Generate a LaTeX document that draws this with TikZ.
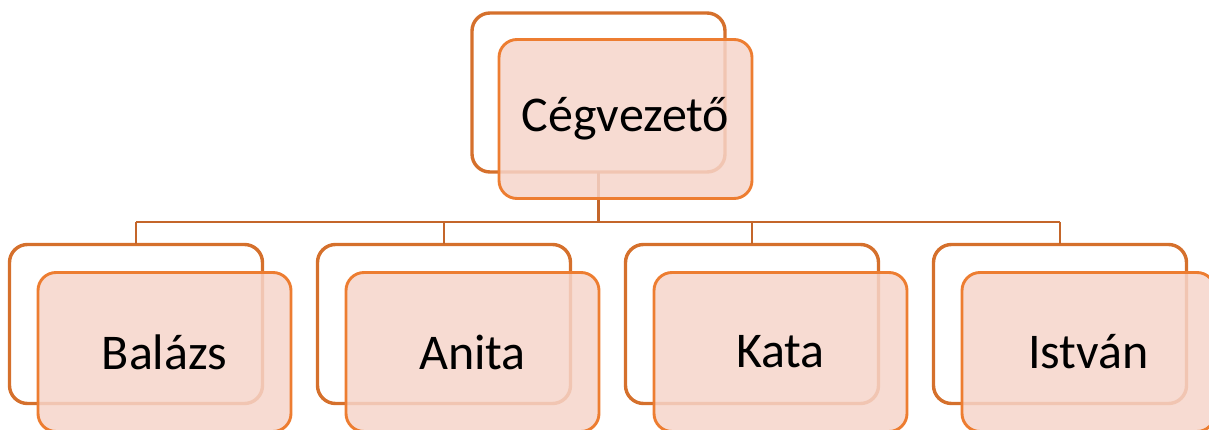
\documentclass[tikz,border=0pt]{standalone}
\usepackage{fontspec}
\setmainfont{Carlito}
\definecolor{backline}{HTML}{D5702C}
\definecolor{frontline}{HTML}{ED7D31}
\definecolor{frontfill}{HTML}{F6D5CA}
\definecolor{linkline}{HTML}{C4662A}
\tikzset{
  backcard/.style={draw=backline, line width=3.4pt, rounded corners=18pt,
    minimum width=253pt, minimum height=159pt, inner sep=0pt, outer sep=0pt},
  frontcard/.style={draw=frontline, line width=2.9pt, rounded corners=18pt,
    fill=frontfill, fill opacity=0.85, text opacity=1,
    minimum width=253pt, minimum height=159pt, inner sep=0pt, outer sep=0pt,
    font=\fontsize{50}{60}\selectfont},
  link/.style={draw=linkline, line width=2.9pt}
}
\begin{document}
\begin{tikzpicture}[x=1pt,y=-1pt]
\useasboundingbox (0,0) rectangle (1209,430);
% back cards
\node[backcard] (topback) at (598.5,92.5) {};
\node[backcard] (b1) at (136,324) {};
\node[backcard] (b2) at (444,324) {};
\node[backcard] (b3) at (752,324) {};
\node[backcard] (b4) at (1060,324) {};
% connectors
\coordinate (bus) at (598.5,222);
\draw[link] (topback.south) -- (topback.south |- bus);
\draw[link] (b1.north |- bus) -- (b4.north |- bus);
\foreach \b in {b1,b2,b3,b4}
  \draw[link] (\b.north |- bus) -- (\b.north);
% front cards with labels
\node[frontcard] (top) at (625.5,119) {Cégvezető};
\node[frontcard] (f1) at (164.5,352) {Balázs};
\node[frontcard] (f2) at (472.5,352) {Anita};
\node[frontcard] (f3) at (780.5,352) {Kata};
\node[frontcard] (f4) at (1088.5,352) {István};
\end{tikzpicture}
\end{document}
